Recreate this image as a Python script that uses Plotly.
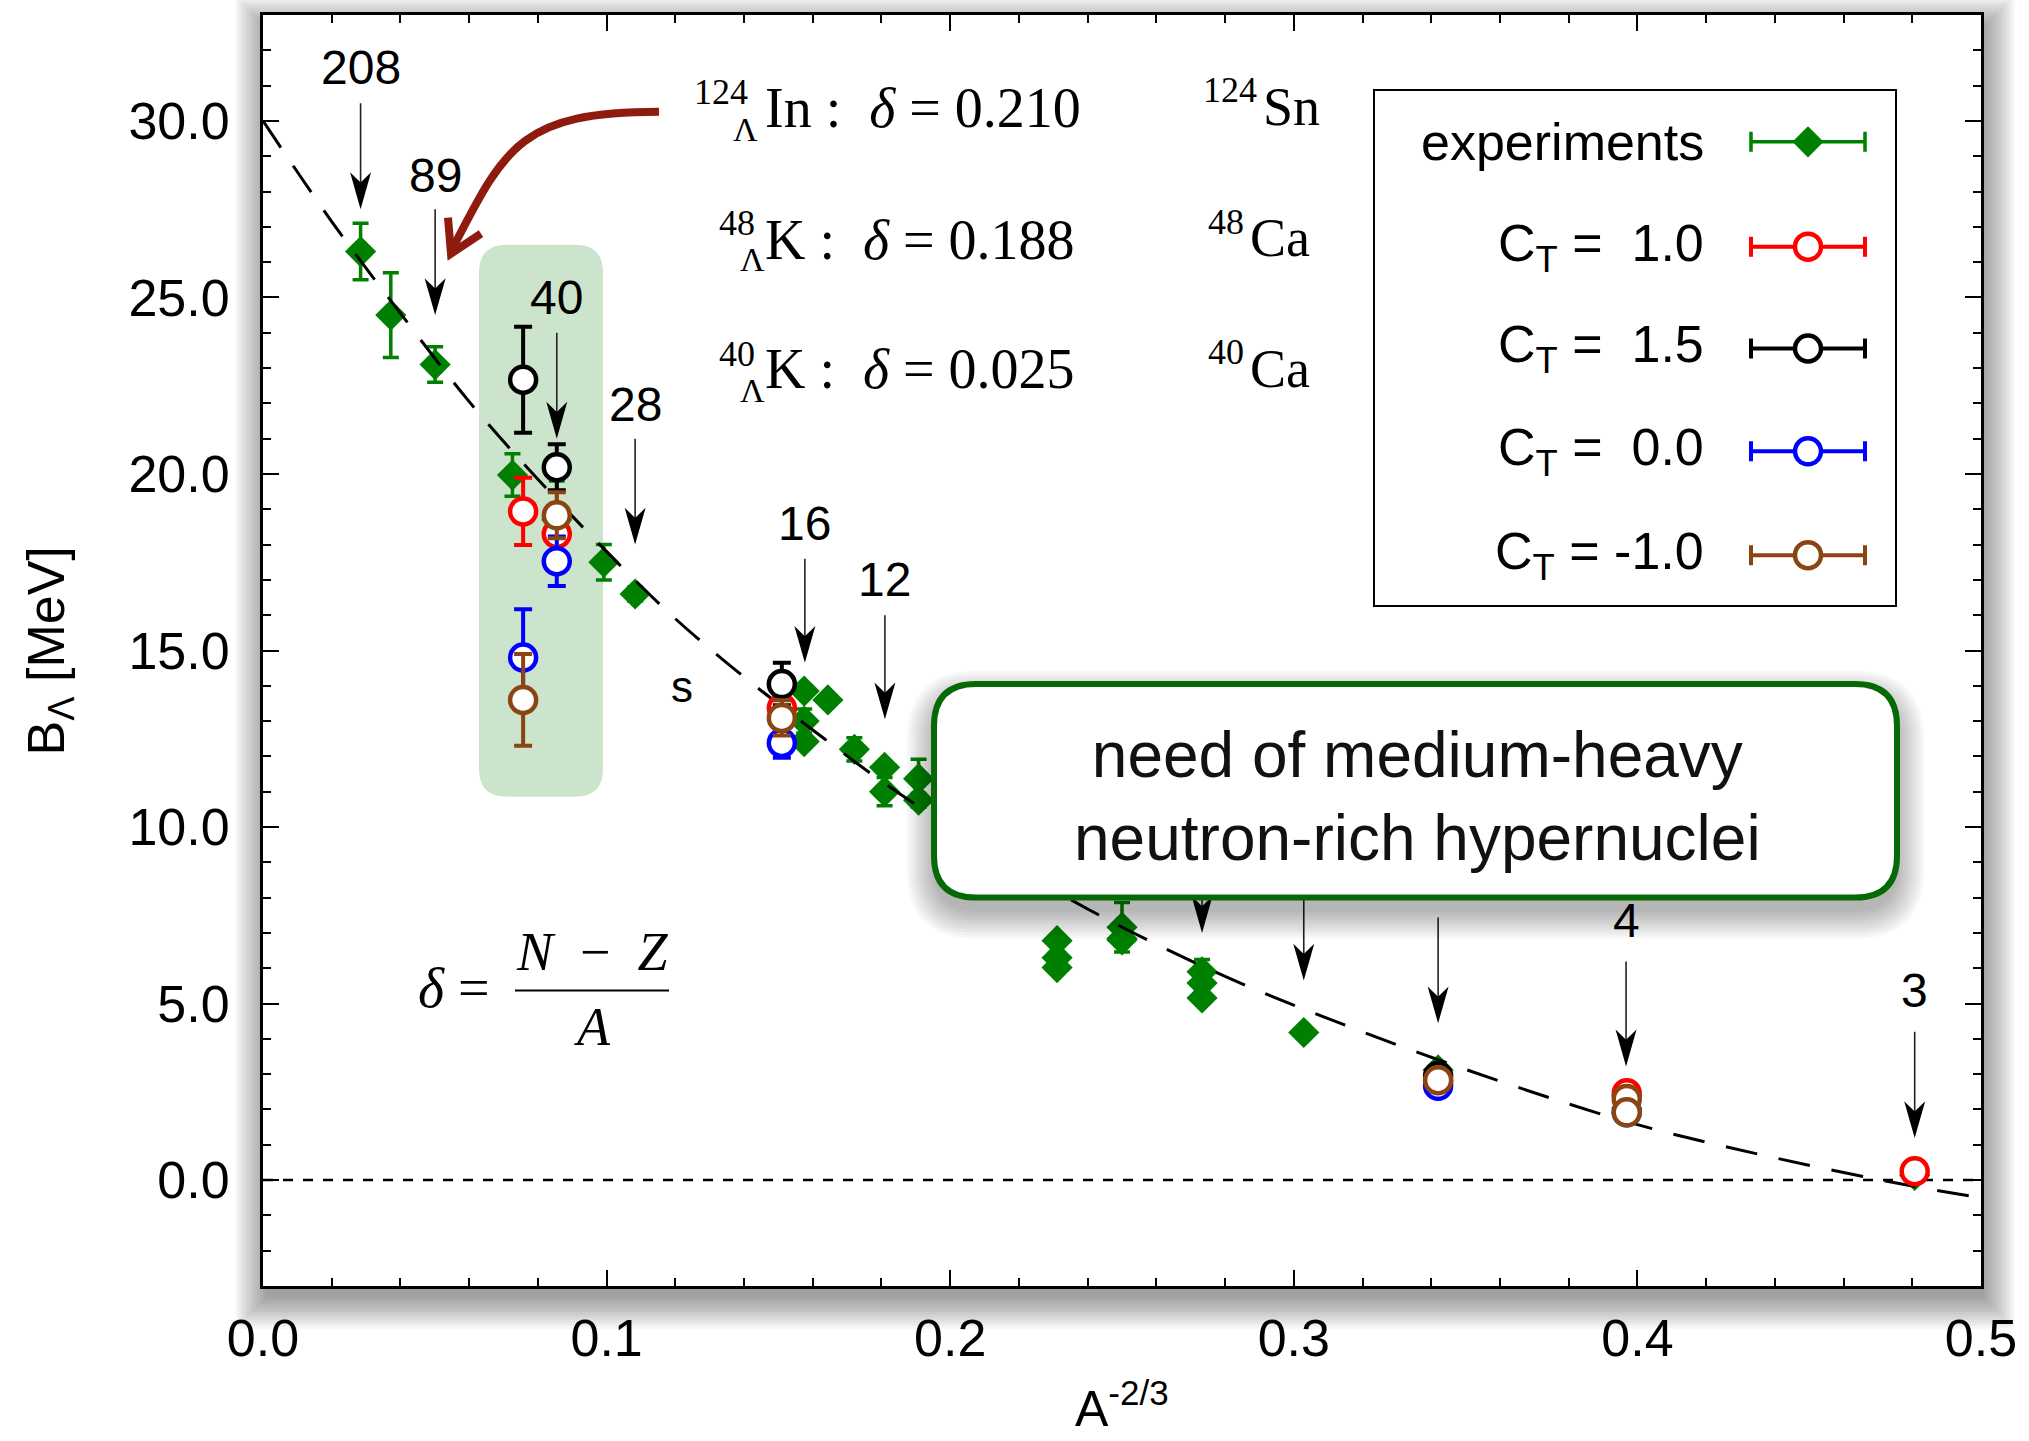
import plotly.graph_objects as go

# ---------------- data ----------------
# experimental hypernuclear binding energies (x = A^-2/3)
exp_x = [0.0284, 0.0372, 0.0501, 0.0726, 0.0855, 0.0992, 0.1083,
         0.1575, 0.1575, 0.1575, 0.1644, 0.1721, 0.1809, 0.1809,
         0.1908, 0.1908, 0.2022, 0.2154, 0.2154,
         0.2311, 0.2311, 0.2311, 0.2500, 0.2500, 0.2500,
         0.2733, 0.2733, 0.2733, 0.3029, 0.3420, 0.3969, 0.3969, 0.4807]
exp_y = [26.3, 24.5, 23.1, 19.97, 18.7, 17.5, 16.6,
         13.85, 13.0, 12.42, 13.6, 12.2, 11.69, 11.0,
         11.37, 10.76, 10.24, 8.89, 9.11,
         6.78, 6.3, 6.02, 7.16, 6.84, 6.80,
         5.9, 5.58, 5.16, 4.18, 3.12, 2.04, 2.39, 0.13]
exp_err = [0.8, 1.2, 0.5, 0.6, 1.1, 0.5, 0.2,
           0.0, 0.34, 0.05, 0.15, 0.33, 0.12, 0.4,
           0.55, 0.19, 0.05, 0.1, 0.22,
           0.1, 0.1, 0.1, 0.7, 0.05, 0.03,
           0.35, 0.03, 0.08, 0.1, 0.02, 0.04, 0.03, 0.05]

# calculations for several C_T values
ct10_x = [0.0757, 0.0855, 0.151, 0.342, 0.3969, 0.4807]
ct10_y = [18.94, 18.3, 13.37, 2.8, 2.46, 0.25]
ct10_err = [0.95, 0.15, 0.4, 0.05, 0.05, 0.05]

ct15_x = [0.0757, 0.0855, 0.151, 0.342]
ct15_y = [22.67, 20.19, 14.05, 2.95]
ct15_err = [1.5, 0.65, 0.6, 0.05]

ct00_x = [0.0757, 0.0855, 0.151, 0.342, 0.3969]
ct00_y = [14.8, 17.53, 12.38, 2.67, 1.92]
ct00_err = [1.37, 0.7, 0.42, 0.05, 0.05]

ctm1_x = [0.0757, 0.0855, 0.151, 0.342, 0.3969, 0.3969]
ctm1_y = [13.6, 18.83, 13.09, 2.83, 2.3, 1.92]
ctm1_err = [1.3, 0.65, 0.5, 0.05, 0.05, 0.05]

# dashed fit curve
fit_x = [0.0, 0.02, 0.04, 0.06, 0.08, 0.10, 0.12, 0.14, 0.16, 0.18, 0.20,
         0.24, 0.28, 0.32, 0.36, 0.40, 0.44, 0.48, 0.50]
fit_y = [30.0, 27.15, 24.55, 22.05, 19.85, 17.8, 15.9, 14.25, 12.75, 11.3, 10.0,
         7.68, 5.77, 4.2, 2.8, 1.57, 0.63, -0.17, -0.5]

zero_x = [0.0, 0.5]
zero_y = [0.0, 0.0]

# mass-number arrows: x, label, label y, arrow top y, arrow tip y
arrow_x = [0.0284, 0.0501, 0.0855, 0.1083, 0.1577, 0.181, 0.2733, 0.3029, 0.342, 0.3967, 0.4807]
arrow_lab = ["208", "89", "40", "28", "16", "12", "", "", "", "4", "3"]
arrow_laby = [31.5, 28.45, 25.0, 21.97, 18.6, 17.0, None, None, None, 7.35, 5.37]
arrow_top = [30.5, 27.5, 24.0, 21.0, 17.6, 16.0, 10.0, 8.65, 7.44, 6.19, 4.2]
arrow_tip = [27.5, 24.5, 21.0, 18.0, 14.65, 13.05, 7.0, 5.65, 4.44, 3.22, 1.19]

legend_names = ["experiments", "C<sub>T</sub> =\u00a0 1.0", "C<sub>T</sub> =\u00a0 1.5",
                "C<sub>T</sub> =\u00a0 0.0", "C<sub>T</sub> = -1.0"]
legend_colors = ["#008000", "#ff0000", "#000000", "#0000ff", "#8b4513"]

x_ticks = [0.0, 0.1, 0.2, 0.3, 0.4, 0.5]
y_ticks = [0, 5, 10, 15, 20, 25, 30]

# ---------------- layout geometry (pixels) ----------------
W, H = 2029, 1441
L, R, T, B = 263, 1981, 13, 1286
X0, X1, Y0, Y1 = 0.0, 0.5, -3.0, 33.0


def DX(px):
    return X0 + (px - L) / (R - L) * (X1 - X0)


def DY(py):
    return Y1 - (py - T) / (B - T) * (Y1 - Y0)


def PX(px):
    return (px - L) / (R - L)


def PY(py):
    return (B - py) / (B - T)


def rrect(x0, y0, x1, y1, r, fx, fy):
    pts = [("M", [(x0 + r, y0)]), ("L", [(x1 - r, y0)]), ("Q", [(x1, y0), (x1, y0 + r)]),
           ("L", [(x1, y1 - r)]), ("Q", [(x1, y1), (x1 - r, y1)]), ("L", [(x0 + r, y1)]),
           ("Q", [(x0, y1), (x0, y1 - r)]), ("L", [(x0, y0 + r)]), ("Q", [(x0, y0), (x0 + r, y0)])]
    s = ""
    for cmd, pp in pts:
        s += cmd + " " + " ".join("%.6f,%.6f" % (fx(a), fy(b)) for a, b in pp) + " "
    return s + "Z"


SANS = "Liberation Sans, Arial, Helvetica, sans-serif"
SERIF = "Liberation Serif, Times New Roman, serif"
GREEN = "#008000"
DSIZE = 24
CSIZE = 26

fig = go.Figure()

# ---------------- traces ----------------
fig.add_trace(go.Scatter(x=zero_x, y=zero_y, mode="lines",
                         line=dict(color="black", width=2.5, dash="10px,10px"),
                         hoverinfo="skip", showlegend=False))

fig.add_trace(go.Scatter(x=exp_x, y=exp_y, mode="markers",
                         marker=dict(symbol="diamond", size=DSIZE, color=GREEN, line=dict(width=0)),
                         error_y=dict(type="data", array=exp_err, color=GREEN, thickness=3.5, width=8),
                         showlegend=False))

fig.add_trace(go.Scatter(x=fit_x, y=fit_y, mode="lines",
                         line=dict(color="black", width=3, dash="32px,22px", shape="spline", smoothing=1.0),
                         hoverinfo="skip", showlegend=False))

for xs, ys, es, col in [(ct10_x, ct10_y, ct10_err, "#ff0000"),
                        (ct15_x, ct15_y, ct15_err, "#000000"),
                        (ct00_x, ct00_y, ct00_err, "#0000ff"),
                        (ctm1_x, ctm1_y, ctm1_err, "#8b4513")]:
    fig.add_trace(go.Scatter(x=xs, y=ys, mode="markers",
                             marker=dict(symbol="circle", size=CSIZE, color="white", line=dict(color=col, width=4.5)),
                             error_y=dict(type="data", array=es, color=col, thickness=4, width=9),
                             showlegend=False))

# legend samples (drawn inside the plot like the original key)
leg_py = [140, 245, 347, 450, 554]
leg_half = DX(1865) - DX(1808)
for i, (name, col) in enumerate(zip(legend_names, legend_colors)):
    if i == 0:
        mk = dict(symbol="diamond", size=DSIZE, color=col, line=dict(width=0))
        th = 3.5
    else:
        mk = dict(symbol="circle", size=CSIZE, color="white", line=dict(color=col, width=4.5))
        th = 4
    fig.add_trace(go.Scatter(x=[DX(1808)], y=[DY(leg_py[i])], mode="markers", marker=mk,
                             error_x=dict(type="data", array=[leg_half], color=col, thickness=th, width=10),
                             showlegend=False, hoverinfo="skip"))

# ---------------- shapes ----------------
shapes = []
# drop shadow of the frame
for i in range(12):
    s = 2.8 * i
    shapes.append(dict(type="rect", xref="paper", yref="paper", layer="below",
                       x0=PX(L - s + 3), x1=PX(R + s + 3), y0=PY(B + s + 12), y1=PY(T - s + 12),
                       line=dict(width=0), fillcolor="rgba(0,0,0,0.035)"))
shapes.append(dict(type="rect", xref="paper", yref="paper", layer="below",
                   x0=0, x1=1, y0=0, y1=1, line=dict(width=0), fillcolor="white"))
# legend frame
shapes.append(dict(type="rect", xref="paper", yref="paper", layer="below",
                   x0=PX(1374), x1=PX(1896), y0=PY(605), y1=PY(88),
                   line=dict(color="black", width=2), fillcolor="white"))
# highlighted region
shapes.append(dict(type="path", xref="x", yref="y", layer="below",
                   path=rrect(479, 243, 603, 796, 28, DX, DY),
                   fillcolor="#cce3cc", line=dict(width=0)))

# mass-number arrows
HL = 37 * (Y1 - Y0) / (B - T)
HW = 10.5 * (X1 - X0) / (R - L)
for x, top, tip in zip(arrow_x, arrow_top, arrow_tip):
    shapes.append(dict(type="line", xref="x", yref="y", layer="above",
                       x0=x, x1=x, y0=top, y1=tip + 0.6 * HL,
                       line=dict(color="#222222", width=1.6)))
    shapes.append(dict(type="path", xref="x", yref="y", layer="above",
                       path="M %.6f,%.6f L %.6f,%.6f L %.6f,%.6f L %.6f,%.6f Z" % (
                           x, tip, x + HW, tip + HL, x, tip + 0.72 * HL, x - HW, tip + HL),
                       fillcolor="black", line=dict(width=0)))

# red curved arrow
p = [(659, 110), (521, 110), (505, 145), (453, 246)]
shapes.append(dict(type="path", xref="x", yref="y", layer="above",
                   path="M %.6f,%.6f C %.6f,%.6f %.6f,%.6f %.6f,%.6f" % tuple(
                       v for a, b in p for v in (DX(a), DY(b))),
                   line=dict(color="#8e1b0e", width=8)))
shapes.append(dict(type="path", xref="x", yref="y", layer="above",
                   path="M %.6f,%.6f L %.6f,%.6f L %.6f,%.6f" % (
                       DX(481), DY(232), DX(451), DY(252), DX(448), DY(216)),
                   line=dict(color="#8e1b0e", width=8)))

# fraction bar of delta formula
shapes.append(dict(type="line", xref="x", yref="y", layer="above",
                   x0=DX(515), x1=DX(669), y0=DY(990), y1=DY(990),
                   line=dict(color="black", width=2)))

# call-out box with shadow
for i in range(10):
    s = 3 * i
    shapes.append(dict(type="path", xref="x", yref="y", layer="above",
                       path=rrect(934 - s, 683 - s + 14, 1897 + s, 897 + s + 14, 42 + s, DX, DY),
                       fillcolor="rgba(0,0,0,0.03)", line=dict(width=0)))
shapes.append(dict(type="path", xref="x", yref="y", layer="above",
                   path=rrect(934, 683, 1897, 897, 42, DX, DY),
                   fillcolor="white", line=dict(color="#056a05", width=6)))

# ---------------- annotations ----------------
ann = []
for x, lab, ly in zip(arrow_x, arrow_lab, arrow_laby):
    if lab:
        ann.append(dict(x=x, y=ly, text=lab, showarrow=False, xref="x", yref="y",
                        font=dict(family=SANS, size=48, color="black")))
ann.append(dict(x=DX(682), y=DY(686), text="s", showarrow=False,
                font=dict(family=SANS, size=44, color="black")))

for name, py in zip(legend_names, leg_py):
    ann.append(dict(x=DX(1706), y=DY(py), text=name, showarrow=False, xanchor="right",
                    font=dict(family=SANS, size=52, color="black")))

ann.append(dict(x=DX(1417), y=DY(796), text="need of medium-heavy<br>neutron-rich hypernuclei",
                showarrow=False, font=dict(family=SANS, size=64, color="#111111")))

# isotope texts
iso = [("124", 750, 90, 128, "In :\u00a0 <i>δ</i> = 0.210", 106, "124", 1259, 88, "Sn", 105),
       ("48", 757, 221, 258, "K :\u00a0 <i>δ</i> = 0.188", 238, "48", 1246, 220, "Ca", 236),
       ("40", 757, 353, 389, "K :\u00a0 <i>δ</i> = 0.025", 368, "40", 1246, 351, "Ca", 368)]
for sup, supx, supy, lamy, main, mainy, sup2, sup2x, sup2y, el, ely in iso:
    ann.append(dict(x=DX(supx), y=DY(supy), text=sup, showarrow=False, xanchor="right",
                    font=dict(family=SERIF, size=36, color="black")))
    ann.append(dict(x=DX(supx - 5), y=DY(lamy), text="Λ", showarrow=False, xanchor="center",
                    font=dict(family=SERIF, size=34, color="black")))
    ann.append(dict(x=DX(763), y=DY(mainy), text=main, showarrow=False, xanchor="left",
                    font=dict(family=SERIF, size=56, color="black")))
    ann.append(dict(x=DX(sup2x), y=DY(sup2y), text=sup2, showarrow=False, xanchor="right",
                    font=dict(family=SERIF, size=36, color="black")))
    ann.append(dict(x=DX(sup2x + 2), y=DY(ely), text=el, showarrow=False, xanchor="left",
                    font=dict(family=SERIF, size=54, color="black")))

# delta definition
ann.append(dict(x=DX(492), y=DY(988), text="<i>δ</i> =", showarrow=False, xanchor="right",
                font=dict(family=SERIF, size=56, color="black")))
ann.append(dict(x=DX(592), y=DY(951), text="<i>N</i>\u00a0 −\u00a0 <i>Z</i>", showarrow=False,
                font=dict(family=SERIF, size=54, color="black")))
ann.append(dict(x=DX(592), y=DY(1027), text="<i>A</i>", showarrow=False,
                font=dict(family=SERIF, size=54, color="black")))

# axis titles
ann.append(dict(x=PX(14), y=0.5, xref="paper", yref="paper", text="B<sub>Λ</sub> [MeV]",
                textangle=-90, showarrow=False, font=dict(family=SANS, size=52, color="black")))
ann.append(dict(x=0.5, y=PY(1439), xref="paper", yref="paper", yanchor="bottom", text="A<sup>-2/3</sup>",
                showarrow=False, font=dict(family=SANS, size=50, color="black")))

fig.update_layout(
    width=W, height=H, autosize=False,
    margin=dict(l=L, r=W - R, t=T, b=H - B, pad=0),
    paper_bgcolor="white", plot_bgcolor="white",
    showlegend=False, shapes=shapes, annotations=ann,
    font=dict(family=SANS, color="black"),
)
fig.update_xaxes(range=[X0, X1], tickvals=x_ticks, ticktext=["%.1f" % v for v in x_ticks],
                 showgrid=False, zeroline=False, showline=True, linecolor="black", linewidth=3,
                 mirror="ticks", ticks="inside", ticklen=16, tickwidth=2, tickcolor="black",
                 minor=dict(ticks="inside", ticklen=8, tickwidth=2, dtick=0.02, tick0=0, tickcolor="black"),
                 tickfont=dict(family=SANS, size=52, color="black"), ticklabelstandoff=5)
fig.update_yaxes(range=[Y0, Y1], tickvals=y_ticks, ticktext=["%.1f" % v for v in y_ticks],
                 showgrid=False, zeroline=False, showline=True, linecolor="black", linewidth=3,
                 mirror="ticks", ticks="inside", ticklen=16, tickwidth=2, tickcolor="black",
                 minor=dict(ticks="inside", ticklen=8, tickwidth=2, dtick=1, tick0=0, tickcolor="black"),
                 tickfont=dict(family=SANS, size=52, color="black"), ticklabelstandoff=20)

fig.write_html("out.html")
